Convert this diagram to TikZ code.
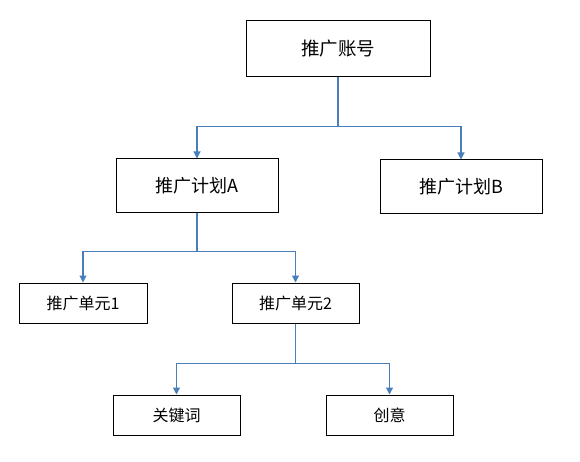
\documentclass[tikz,border=0pt]{standalone}
\usepackage{fontspec}
\setmainfont{Noto Sans CJK SC}
\usetikzlibrary{calc}
\usetikzlibrary{arrows.meta}
\definecolor{linkblue}{HTML}{4A7EBB}

\begin{document}
\begin{tikzpicture}[x=1pt,y=1pt,
    box/.style={draw=black,line width=1pt,inner sep=0pt},
    link/.style={linkblue,line width=1.1pt},
    arr/.style={link,-{Triangle[width=7pt,length=7pt]}}]
          \useasboundingbox (0,0) rectangle (580,461);
          \node[box,minimum width=184,minimum height=56,font=\fontsize{18.5}{20}\selectfont] (acct) at (338,412) {推广账号};
          \node[box,minimum width=162,minimum height=53,font=\fontsize{18}{20}\selectfont] (planA) at (197,275.5) {推广计划A};
          \node[box,minimum width=162,minimum height=53,font=\fontsize{18}{20}\selectfont] (planB) at (461,274.5) {推广计划B};
          \node[box,minimum width=128,minimum height=40,font=\fontsize{16}{18}\selectfont] (unit1) at (83,158) {推广单元1};
          \node[box,minimum width=127,minimum height=40,font=\fontsize{16}{18}\selectfont] (unit2) at (295.5,158) {推广单元2};
          \node[box,minimum width=127,minimum height=40,font=\fontsize{16}{18}\selectfont] (kw) at (176.5,46) {关键词};
          \node[box,minimum width=127,minimum height=40,font=\fontsize{16}{18}\selectfont] (idea) at (389.5,46) {创意};

          \coordinate (j1) at ($(acct.south)+(0,-49)$);
          \coordinate (j2) at ($(planA.south)+(0,-39)$);
          \coordinate (j3) at ($(unit2.south)+(0,-40)$);

          \draw[link] (acct.south) -- (j1);
          \draw[arr] (j1) -| (planA.north);
          \draw[arr] (j1) -| (planB.north);

          \draw[link] (planA.south) -- (j2);
          \draw[arr] (j2) -| (unit1.north);
          \draw[arr] (j2) -| (unit2.north);

          \draw[link] (unit2.south) -- (j3);
          \draw[arr] (j3) -| (kw.north);
          \draw[arr] (j3) -| (idea.north);
        \end{tikzpicture}
\end{document}
